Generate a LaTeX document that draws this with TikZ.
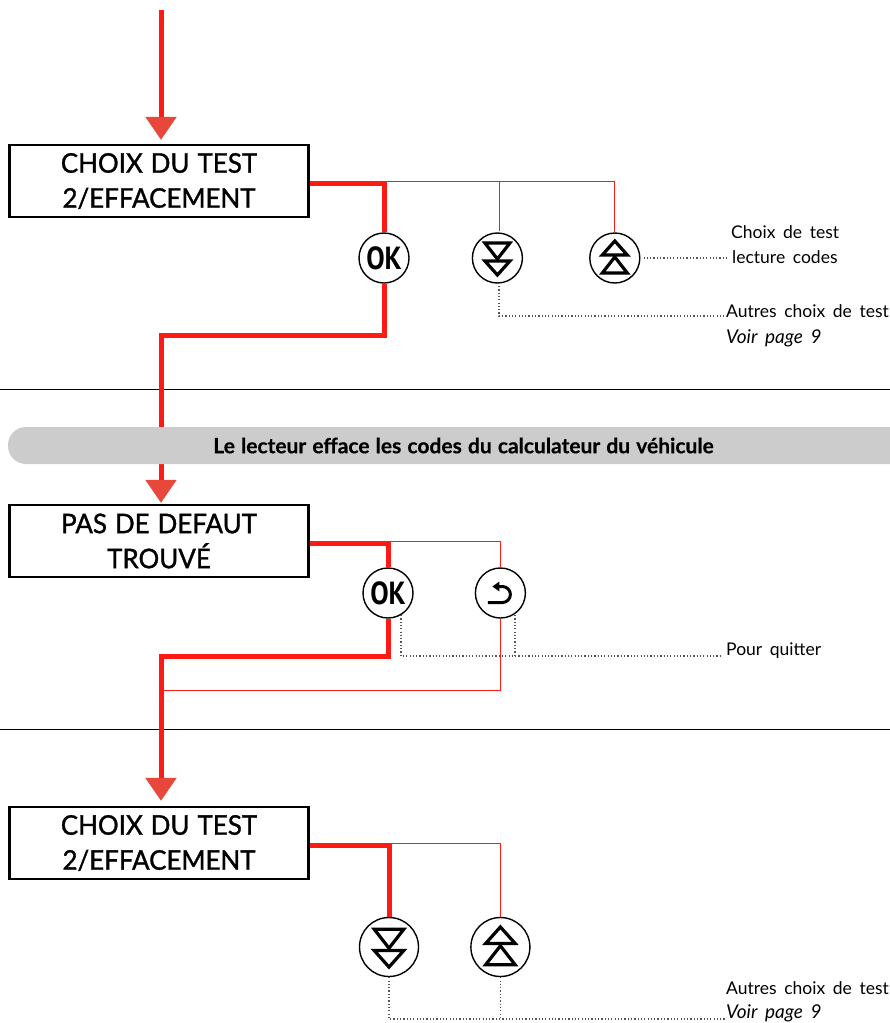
\documentclass[tikz,border=0pt]{standalone}
\usepackage{fontspec}
\setmainfont{Lato}
\newfontfamily\keyfont[FakeStretch=0.86]{PT Sans Bold}
\newfontfamily\screenfont[FakeStretch=0.96,FakeBold=1.2,WordSpace=1.2]{Lato}
\newfontfamily\notefont[WordSpace=1.7]{Lato}
\newfontfamily\barfont[WordSpace=1.2,FakeBold=0.5]{Lato Bold}
\usepackage{xcolor}
\definecolor{Flow}{HTML}{FF1A14}
\definecolor{Head}{HTML}{E8483B}
\definecolor{Pill}{HTML}{CCCCCC}
\definecolor{Dots}{HTML}{555555}
\usetikzlibrary{arrows.meta,positioning}
\tikzset{
  screen/.style={draw=black,fill=white,line width=2.2pt,minimum width=299pt,minimum height=72pt,
    align=center,inner sep=0pt,font=\screenfont\fontsize{27}{35}\selectfont},
  keybtn/.style={circle,draw=black,fill=white,line width=1.4pt,minimum size=50pt,inner sep=0pt},
  keybig/.style={keybtn,minimum size=59pt},
  mainline/.style={draw=Flow,line width=5pt},
  mainarrow/.style={mainline,-{Triangle[length=23pt,width=30pt,color=Head]}},
  sideline/.style={draw=Flow,line width=1pt},
  dotline/.style={draw=Dots,line width=1.2pt,dash pattern=on 1.2pt off 2.1pt},
  note/.style={font=\notefont\fontsize{17.5}{25}\selectfont,align=left,inner sep=0pt,anchor=west},
  notepage/.style={note,font=\notefont\fontsize{19}{25}\selectfont\itshape},
  tri/.style={draw=black,line width=3.2pt,miter limit=10},
  pics/twodown/.style={code={
    \draw[tri] (-12.5,-15)--(12.5,-15)--(0,1)--cycle;
    \draw[tri] (-12.5,3)--(12.5,3)--(0,17)--cycle;}},
  pics/goback/.style={code={
    \draw[black,line width=3pt] (-12.5,9.5)--(2,9.5) arc[start angle=90,end angle=-90,radius=8] --(-3,-6.5);
    \fill[black] (-8,-6.5)--(-1,-11.5)--(-1,-1.5)--cycle;}}
}
\newcommand{\oklabel}{{\keyfont\fontsize{32}{32}\selectfont OK}}

\begin{document}
\begin{tikzpicture}[x=1pt,y=-1pt]
\useasboundingbox (0,0) rectangle (890,1023);
\draw[line width=1pt] (0,389)--(890,389);
\draw[line width=1pt] (0,729)--(890,729);
% first screen
\coordinate (start) at (161,10);
\node[screen] (testa) at (159,181) {CHOIX DU TEST\\2/EFFACEMENT};
\node[keybtn] (oka) at (384,258) {\oklabel};
\node[keybtn,right=62pt of oka] (downa) {};
\node[keybtn,right=66pt of downa] (upa) {};
\pic at (downa) {twodown};
\pic[yscale=-1] at (upa) {twodown};
\node[note] (choix) at (731,232) {Choix de test};
\node[note] (codes) at (732,257) {lecture codes};
\node[note] (autresa) at (726,311) {Autres choix de test};
\node[notepage] (voira) at (726,338) {Voir page 9};
% second screen
\node[screen] (defaut) at (159,541) {PAS DE DEFAUT\\TROUVÉ};
\node[keybtn] (okb) at (388,593) {\oklabel};
\node[keybtn,right=61pt of okb] (back) {};
\pic at (back) {goback};
\node[note] (quitter) at (726,651) {Pour quitter};
% third screen
\node[screen] (testb) at (159,843) {CHOIX DU TEST\\2/EFFACEMENT};
\node[keybig] (downb) at (389,947) {};
\node[keybig,right=51pt of downb] (upb) {};
\pic[scale=1.18] at (downb) {twodown};
\pic[scale=1.18,yscale=-1] at (upb) {twodown};
\node[note] (autresb) at (726,988) {Autres choix de test};
\node[notepage] (voirb) at (726,1013) {Voir page 9};
% turning points
\coordinate (turna) at (161,335);
\coordinate (turnb) at (161,656);
\coordinate (turnc) at (161,690);
\coordinate (dota) at (725,316);
\coordinate (dotb) at (722,656);
\coordinate (dotc) at (725,1019);
% thin lines
\draw[sideline] (testa.east) -| (upa.north);
\draw[sideline] (499,182) -- (499,231);
\draw[sideline] (defaut.east) -| (back.north);
\draw[sideline] (back.south) |- (turnc);
\draw[sideline] (testb.east) -| (upb.north);
% thick lines
\draw[mainarrow,shorten >=4pt] (start) -- (testa.north -| start);
\draw[mainline] ([yshift=-2.5pt]testa.east) -| (oka.north);
\draw[mainarrow,shorten >=1pt] (oka.south) |- (turna) -- (defaut.north -| turna);
\draw[mainline] ([yshift=-2pt]defaut.east) -| (okb.north);
\draw[mainarrow,shorten >=5pt] (okb.south) |- (turnb) -- (testb.north -| turnb);
\draw[mainline] ([yshift=-2pt]testb.east) -| (downb.north);
% dotted lines
\draw[dotline] ([xshift=3pt]upa.east) -- ([xshift=-5pt]codes.west |- upa.east);
\draw[dotline] (499,286) |- (dota);
\draw[dotline] (401,615) |- (dotb);
\draw[dotline] (515,615) -- (515,656);
\draw[dotline] (downb.south) |- (dotc);
\draw[dotline] (upb.south) -- (upb.south |- dotc);
% message bar
\node[fill=Pill,rounded corners=18pt,minimum width=911pt,minimum height=37pt,inner sep=0pt,
  font=\barfont\fontsize{21}{22}\selectfont] (message) at (463.5,445.5) {Le lecteur efface les codes du calculateur du véhicule};
\end{tikzpicture}
\end{document}
